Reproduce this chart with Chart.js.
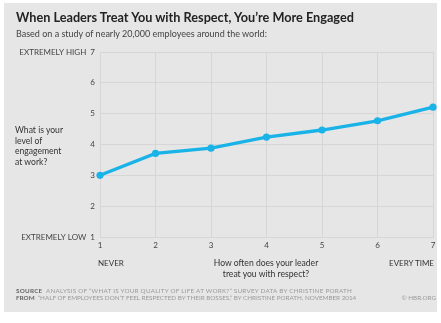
<!DOCTYPE html>
<html><head><meta charset="utf-8">
<script src="https://cdn.jsdelivr.net/npm/chart.js@4"></script>
<style>
html,body{margin:0;padding:0;background:#fff;width:441px;height:323px;overflow:hidden;font-family:Lato,"Open Sans",sans-serif;}
#panel{position:absolute;left:4px;top:3px;width:433px;height:309px;background:#e6e6e6;}
#c{position:absolute;left:0;top:0;}
.t{position:absolute;white-space:nowrap;line-height:1;}
#title{left:16px;top:11px;font-size:12.7px;font-weight:700;color:#222;}
#sub{left:16px;top:29px;font-size:9px;color:#444;}
#ytitle{left:15px;top:125px;font-size:8.6px;color:#333;line-height:10.7px;white-space:normal;width:70px;}
#never{left:98px;top:259px;font-size:8px;color:#333;}
#xtitle{left:212px;top:258px;width:108px;text-align:center;font-size:8.6px;color:#333;line-height:11px;white-space:normal;}
#every{right:7px;top:259px;font-size:8px;color:#333;}
#f1,#f2{left:16px;font-size:6.3px;color:#9a9a9a;}
#f1{top:288px;letter-spacing:0.25px;} #f2{top:295px;}
#f1 b,#f2 b{color:#666;}
#hbr{right:5px;top:295px;font-size:6.3px;color:#9a9a9a;}
</style></head><body>
<div id="panel"></div>
<canvas id="c" width="441" height="323"></canvas>
<div class="t" id="title">When Leaders Treat You with Respect, You’re More Engaged</div>
<div class="t" id="sub">Based on a study of nearly 20,000 employees around the world:</div>
<div class="t" id="ytitle">What is your<br>level of<br>engagement<br>at work?</div>
<div class="t" id="never">NEVER</div>
<div class="t" id="xtitle">How often does your leader<br>treat you with respect?</div>
<div class="t" id="every">EVERY TIME</div>
<div class="t" id="f1"><b>SOURCE</b>&nbsp; ANALYSIS OF “WHAT IS YOUR QUALITY OF LIFE AT WORK?” SURVEY DATA BY CHRISTINE PORATH</div>
<div class="t" id="f2"><b>FROM</b>&nbsp; “HALF OF EMPLOYEES DON’T FEEL RESPECTED BY THEIR BOSSES,” BY CHRISTINE PORATH, NOVEMBER 2014</div>
<div class="t" id="hbr">© HBR.ORG</div>
<script>
const respectFrequency = [1, 2, 3, 4, 5, 6, 7];
const engagement = [3.0, 3.71, 3.88, 4.24, 4.47, 4.77, 5.21];
const yTickLabels = {1: "EXTREMELY LOW  1", 7: "EXTREMELY HIGH  7"};

const points = respectFrequency.map((x, i) => ({x: x, y: engagement[i]}));
const gridColor = "#d6d6d6";
new Chart(document.getElementById("c"), {
  type: "line",
  data: { datasets: [{
    data: points,
    borderColor: "#1ab3e8",
    backgroundColor: "#1ab3e8",
    borderWidth: 3.3,
    pointRadius: 3.6,
    pointBorderWidth: 0,
    pointHoverRadius: 3.6,
    tension: 0,
    clip: false
  }]},
  options: {
    responsive: false,
    animation: false,
    events: [],
    layout: { padding: { left: 0, right: 8, top: 52, bottom: 0 } },
    plugins: { legend: { display: false }, tooltip: { enabled: false } },
    scales: {
      x: {
        type: "linear", min: 1, max: 7,
        afterFit: s => { s.height = 86; },
        grid: { color: gridColor, drawTicks: false, lineWidth: 1 },
        border: { color: gridColor },
        ticks: { stepSize: 1, padding: 4, color: "#444", font: { family: "Lato", size: 8 } }
      },
      y: {
        min: 1, max: 7,
        afterFit: s => { s.width = 100; },
        grid: { color: gridColor, drawTicks: false, lineWidth: 1 },
        border: { color: gridColor },
        ticks: { stepSize: 1, padding: 5, color: "#444", font: { family: "Lato", size: 8 },
          callback: v => yTickLabels[v] || String(v) }
      }
    }
  }
});
</script>
</body></html>
